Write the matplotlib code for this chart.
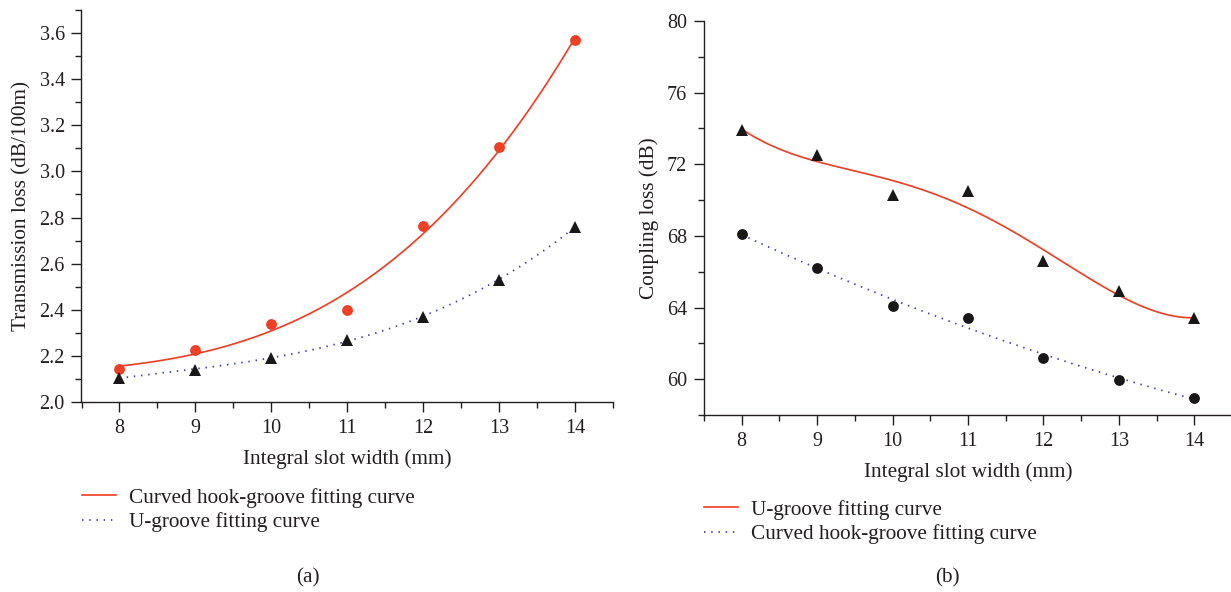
import numpy as np
import matplotlib
matplotlib.use("Agg")
import matplotlib.pyplot as plt
from matplotlib.lines import Line2D

plt.rcParams['font.family'] = ['Liberation Serif', 'DejaVu Serif']

# ---- data ----
slot_width = [8, 9, 10, 11, 12, 13, 14]

# (a) transmission loss (dB/100m)
a_hook = [2.145, 2.225, 2.34, 2.40, 2.765, 3.105, 3.57]
a_u = [2.105, 2.14, 2.19, 2.27, 2.37, 2.53, 2.76]

# (b) coupling loss (dB)
b_u = [73.9, 72.5, 70.3, 70.5, 66.6, 64.9, 63.4]
b_hook = [68.1, 66.2, 64.1, 63.4, 61.2, 59.95, 58.95]

a_yticks = [2.0, 2.2, 2.4, 2.6, 2.8, 3.0, 3.2, 3.4, 3.6]
b_yticks = [60, 64, 68, 72, 76, 80]
xticks = [8, 9, 10, 11, 12, 13, 14]

a_legend = ["Curved hook-groove fitting curve", "U-groove fitting curve"]
b_legend = ["U-groove fitting curve", "Curved hook-groove fitting curve"]
xlabel = "Integral slot width (mm)"

RED_LINE = '#f03c22'
RED_MARK = '#ef4026'
BLUE = '#3c3cc0'
BLACK = '#1a1719'
TXT = '#231f20'

W, H = 1231, 592
fig = plt.figure(figsize=(W / 100, H / 100), dpi=100)

TICK_FS = 14.5
LAB_FS = 15.3
LEG_FS = 15.3

def px(x0, y0, x1, y1):
    return [x0 / W, 1 - y1 / H, (x1 - x0) / W, (y1 - y0) / H]

def style_axes(ax):
    for s in ['top', 'right']:
        ax.spines[s].set_visible(False)
    for s in ['left', 'bottom']:
        ax.spines[s].set_color(TXT)
        ax.spines[s].set_linewidth(1.0)
    ax.tick_params(which='major', direction='out', length=7, width=1.0,
                   colors=TXT, labelsize=TICK_FS, pad=5)
    ax.tick_params(which='minor', direction='out', length=4, width=1.0, colors=TXT)
    ax.set_xticks(xticks)
    ax.set_xticks([v + 0.5 for v in [7] + xticks], minor=True)
    ax.set_xlim(7.5, 14.5)

xs = np.array(slot_width, dtype=float)
xf = np.linspace(8, 14, 300)

def add_legend(handles, labels, x, y):
    fig.legend(handles, labels, loc='upper left', bbox_to_anchor=(x / W, 1 - y / H),
               frameon=False, fontsize=LEG_FS, handlelength=1.6, handletextpad=0.6,
               labelspacing=0.2, borderpad=0, borderaxespad=0, labelcolor=TXT)

# ---- (a) ----
axa = fig.add_axes(px(81.5, 10, 613, 402))
style_axes(axa)
axa.set_ylim(2.0, 3.7)
axa.set_yticks(a_yticks)
axa.set_yticks(np.arange(2.1, 3.75, 0.2), minor=True)
axa.set_yticklabels([f"{v:.1f}" for v in a_yticks])

fa1 = np.polyval(np.polyfit(xs, a_hook, 3), xf)
fa2 = np.polyval(np.polyfit(xs, a_u, 3), xf)
axa.plot(xf, fa1, color=RED_LINE, lw=1.2, zorder=2)
axa.plot(xf, fa2, color=BLUE, lw=1.3, dashes=(0.8, 3.2), zorder=2)
axa.plot(slot_width, a_hook, 'o', color=RED_MARK, ms=7.8, mew=0, zorder=3, clip_on=False)
axa.plot(slot_width, a_u, '^', color=BLACK, ms=9, mew=0, zorder=3, clip_on=False)
axa.set_xlabel(xlabel, fontsize=LAB_FS, color=TXT, labelpad=8)
axa.set_ylabel("Transmission loss (dB/100m)", fontsize=LAB_FS, color=TXT, labelpad=6)

h_a = [Line2D([], [], color=RED_LINE, lw=1.2),
       Line2D([], [], color=BLUE, lw=1.3, dashes=(0.8, 3.2))]
add_legend(h_a, a_legend, 82, 488)
fig.text(308 / W, 1 - 578 / H, "(a)", fontsize=LEG_FS, color=TXT, ha='center', va='center')

# ---- (b) ----
axb = fig.add_axes(px(704, 21, 1232, 415))
style_axes(axb)
axb.set_ylim(58, 80)
axb.set_yticks(b_yticks)
axb.set_yticks(np.arange(58, 80.1, 2), minor=True)

fb1 = np.polyval(np.polyfit(xs, b_u, 4), xf)
fb2 = np.polyval(np.polyfit(xs, b_hook, 2), xf)
axb.plot(xf, fb1, color=RED_LINE, lw=1.2, zorder=2)
axb.plot(xf, fb2, color=BLUE, lw=1.3, dashes=(0.8, 3.2), zorder=2)
axb.plot(slot_width, b_u, '^', color=BLACK, ms=9, mew=0, zorder=3, clip_on=False)
axb.plot(slot_width, b_hook, 'o', color=BLACK, ms=7.8, mew=0, zorder=3, clip_on=False)
axb.set_xlabel(xlabel, fontsize=LAB_FS, color=TXT, labelpad=8)
axb.set_ylabel("Coupling loss (dB)", fontsize=LAB_FS, color=TXT, labelpad=6)

h_b = [Line2D([], [], color=RED_LINE, lw=1.2),
       Line2D([], [], color=BLUE, lw=1.3, dashes=(0.8, 3.2))]
add_legend(h_b, b_legend, 704, 500)
fig.text(947 / W, 1 - 578 / H, "(b)", fontsize=LEG_FS, color=TXT, ha='center', va='center')

fig.savefig("out.png", dpi=100)
